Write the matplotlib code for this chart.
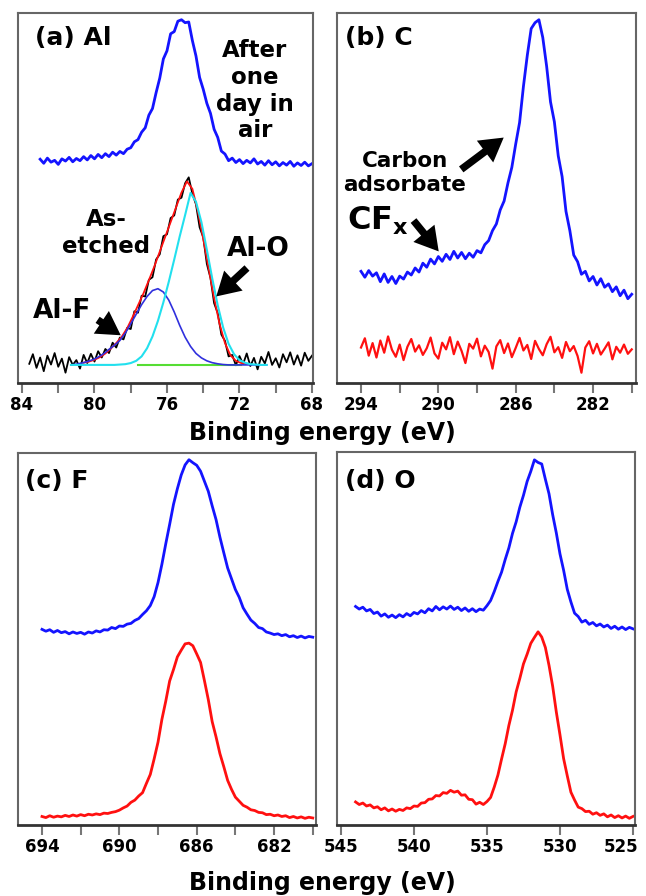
import numpy as np
import matplotlib
matplotlib.use("Agg")
import matplotlib.pyplot as plt
import matplotlib.transforms as mtransforms

plt.rcParams['font.family'] = ['DejaVu Sans']
plt.rcParams['font.weight'] = 'bold'

# ---- (a) Al 2p ----
al_air = [60.5, 59.4, 60.8, 59.7, 60.2, 59.1, 60.6, 60.0, 61.0, 59.8,
          60.7, 60.1, 61.2, 60.3, 61.5, 60.6, 61.8, 60.9, 62.0, 61.2,
          62.4, 61.6, 62.6, 62.0, 63.2, 63.6, 65.2, 65.8, 67.8, 69.0,
          72.4, 74.2, 78.5, 82.4, 87.6, 89.8, 94.4, 95.0, 97.8, 98.2,
          97.4, 97.6, 92.6, 88.4, 82.6, 79.4, 75.6, 72.9, 68.6, 66.4,
          62.7, 61.9, 60.1, 60.8, 59.6, 60.4, 59.3, 60.2, 59.5, 60.6,
          59.2, 59.9, 58.9, 60.1, 59.0, 59.8, 58.7, 59.6, 58.9, 59.9,
          58.6, 59.5, 58.8, 59.7, 58.7, 59.3]
al_air_e = np.linspace(83.0, 68.0, len(al_air))

al_etched = [5.2, 7.8, 4.1, 6.9, 3.2, 7.4, 5.0, 8.1, 4.4, 6.6,
             2.8, 7.0, 4.9, 6.2, 3.9, 7.6, 5.4, 7.9, 5.8, 8.6,
             6.9, 9.2, 8.1, 10.9, 9.6, 12.3, 11.8, 14.9, 14.6, 19.4,
             19.0, 23.6, 23.4, 27.9, 28.6, 33.4, 34.8, 39.7, 40.2, 44.6,
             45.3, 49.6, 50.1, 54.0, 55.6, 51.2, 48.3, 42.1, 39.4, 32.2,
             28.4, 21.6, 18.9, 13.1, 11.4, 7.2, 7.6, 4.8, 7.3, 5.1,
             8.0, 4.6, 6.8, 3.7, 7.1, 5.3, 8.4, 4.9, 6.7, 4.2,
             7.8, 5.6, 8.3, 5.0, 7.5, 4.7, 8.2, 6.0, 7.4]
al_etched_e = np.linspace(83.6, 68.0, len(al_etched))

al_fit = [5.5, 5.8, 6.3, 7.0, 8.0, 9.3, 10.8, 12.5, 14.8, 17.8,
          21.0, 24.2, 27.8, 31.5, 35.5, 39.5, 43.5, 47.5, 51.5, 54.5,
          52.5, 46.5, 39.0, 31.0, 23.0, 16.0, 10.8, 7.5, 6.0, 5.4, 5.2]
al_fit_e = np.linspace(80.6, 71.6, len(al_fit))

al_f = [4.9, 5.1, 5.4, 5.8, 6.3, 7.0, 7.9, 9.1, 10.2, 11.5,
        13.5, 16.0, 18.6, 21.2, 23.4, 25.0, 25.5, 24.6, 22.4, 19.2,
        15.6, 12.4, 9.9, 8.0, 6.8, 6.0, 5.5, 5.2, 5.0, 4.9,
        4.9, 4.9, 4.9, 4.9, 4.9, 4.9, 4.9]
al_o = [4.9, 4.9, 4.9, 4.9, 4.9, 4.9, 4.9, 4.9, 4.9, 5.0,
        5.1, 5.4, 6.0, 7.2, 9.4, 12.6, 16.8, 21.8, 27.4, 33.4,
        39.6, 45.4, 51.4, 49.0, 43.5, 36.0, 28.2, 21.0, 15.0, 10.6,
        7.8, 6.2, 5.5, 5.1, 5.0, 4.9, 4.9]
al_comp_e = np.linspace(81.3, 70.5, len(al_f))
al_bg_e = [77.6, 71.9]
al_bg = [5.0, 5.0]

# ---- (b) C 1s ----
c_air = [30.2, 28.6, 30.4, 28.9, 29.8, 27.4, 29.5, 27.2, 28.8, 26.9,
         28.9, 28.1, 30.0, 29.2, 31.1, 30.0, 32.4, 31.3, 33.5, 32.2,
         34.2, 32.9, 34.8, 33.4, 35.6, 33.8, 35.3, 33.6, 35.1, 34.0,
         35.8, 35.2, 37.4, 38.5, 41.2, 43.0, 46.8, 49.2, 54.1, 58.3,
         64.6, 70.4, 80.2, 88.6, 95.8, 97.4, 98.2, 93.4, 85.6, 76.0,
         70.6, 61.4, 55.8, 46.4, 41.2, 34.6, 32.8, 29.4, 30.2, 27.6,
         28.8, 26.5, 28.2, 25.9, 26.8, 24.7, 26.0, 23.6, 25.1, 22.8, 24.0]
c_air_e = np.linspace(294.0, 280.0, len(c_air))

c_etched = [9.6, 12.1, 7.4, 10.8, 6.9, 11.5, 8.2, 12.6, 9.0, 7.1,
            10.4, 6.2, 9.8, 11.9, 8.5, 10.2, 7.6, 9.4, 12.3, 8.0,
            6.6, 10.9, 9.1, 12.4, 7.8, 11.2, 8.7, 5.4, 10.6, 9.3,
            12.0, 7.2, 10.1, 8.4, 3.9, 9.9, 11.6, 8.1, 10.7, 7.0,
            9.5, 12.2, 8.8, 10.3, 6.5, 11.4, 9.2, 7.5, 10.5, 12.5,
            8.3, 9.7, 6.8, 11.1, 8.6, 10.0, 7.3, 2.8, 9.6, 11.3,
            8.0, 10.6, 7.7, 9.3, 11.0, 6.4, 9.8, 8.2, 10.4, 7.9, 9.1]
c_etched_e = np.linspace(294.0, 280.0, len(c_etched))

# ---- (c) F 1s ----
f_air = [52.6, 52.1, 52.5, 51.8, 52.3, 51.7, 52.0, 51.4, 51.9, 51.5,
         51.8, 51.3, 51.9, 51.6, 52.2, 51.9, 52.5, 52.4, 53.1, 52.8,
         53.5, 53.4, 54.0, 54.2, 55.0, 55.5, 56.6, 57.6, 59.0, 61.4,
         65.2, 70.1, 75.6, 80.8, 86.2, 90.4, 94.1, 96.8, 98.2, 97.4,
         96.7, 95.1, 92.4, 89.7, 85.8, 82.1, 77.4, 73.2, 69.1, 66.2,
         63.3, 61.2, 58.4, 56.7, 55.1, 54.2, 53.1, 52.8, 51.9, 51.6,
         51.2, 51.4, 50.9, 51.2, 50.6, 50.9, 50.4, 50.8, 50.3, 50.7, 50.5]
f_air_e = np.linspace(694.0, 680.0, len(f_air))

f_etched = [2.3, 2.0, 2.5, 2.1, 2.4, 2.2, 2.6, 2.3, 2.7, 2.4,
            2.8, 2.5, 2.9, 2.7, 3.0, 2.8, 3.2, 3.1, 3.4, 3.6,
            4.0, 4.6, 5.1, 6.1, 6.7, 7.8, 8.7, 11.2, 13.6, 17.8,
            22.3, 28.4, 33.3, 38.7, 41.8, 45.2, 47.0, 48.7, 48.9, 48.2,
            46.0, 43.7, 38.8, 33.7, 27.8, 23.7, 19.2, 15.7, 12.0, 9.6,
            7.5, 6.4, 5.3, 4.8, 4.1, 3.9, 3.4, 3.3, 2.8, 2.9,
            2.5, 2.7, 2.3, 2.5, 2.0, 2.3, 1.9, 2.2, 1.8, 2.1, 1.9]
f_etched_e = np.linspace(694.0, 680.0, len(f_etched))

# ---- (d) O 1s ----
o_air = [58.6, 57.9, 58.4, 57.4, 57.8, 56.7, 57.1, 56.0, 56.6, 55.7,
         56.3, 55.6, 56.4, 55.8, 56.7, 56.1, 57.0, 56.6, 57.5, 56.9,
         58.0, 57.4, 58.6, 57.7, 58.5, 57.9, 58.7, 57.8, 58.4, 57.5,
         58.2, 57.3, 58.0, 57.2, 57.9, 57.6, 58.8, 60.2, 62.6, 65.3,
         67.8, 71.2, 74.3, 78.2, 81.3, 85.2, 88.4, 92.1, 94.8, 97.9,
         97.2, 96.8, 92.7, 88.8, 83.2, 78.3, 72.7, 68.3, 63.2, 59.8,
         56.8, 55.9, 54.4, 54.9, 53.8, 54.3, 53.4, 53.9, 53.1, 53.6,
         52.7, 53.3, 52.5, 53.1, 52.4, 53.0, 52.6]
o_air_e = np.linspace(544.0, 525.0, len(o_air))

o_etched = [6.2, 5.5, 5.9, 5.1, 5.4, 4.6, 4.9, 4.1, 4.6, 3.8,
            4.3, 3.7, 4.2, 3.9, 4.6, 4.4, 5.1, 5.0, 5.9, 6.0,
            6.9, 7.0, 7.9, 7.8, 8.7, 8.5, 9.3, 8.8, 9.1, 8.0,
            8.1, 6.9, 6.8, 5.6, 6.1, 5.5, 6.3, 7.4, 10.2, 13.4,
            17.7, 21.8, 26.7, 30.8, 35.7, 39.3, 43.2, 45.8, 48.7, 50.3,
            51.8, 50.4, 47.6, 42.8, 37.2, 30.3, 24.2, 17.8, 13.2, 8.8,
            6.7, 4.8, 4.4, 3.6, 3.7, 2.9, 3.3, 2.6, 3.0, 2.2,
            2.7, 2.0, 2.5, 1.9, 2.4, 1.8, 2.3]
o_etched_e = np.linspace(544.0, 525.0, len(o_etched))

BLUE = '#1414ff'
RED = '#ff1010'


def style_axis(ax, xlim, major, minor):
    ax.set_xlim(*xlim)
    ax.set_ylim(0, 100)
    ax.set_yticks([])
    ax.set_xticks(major)
    ax.set_xticks(minor, minor=True)
    ax.set_xticklabels([str(m) for m in major], fontsize=12, fontweight='bold')
    ax.tick_params(axis='x', which='both', direction='out', length=7,
                   width=1.5, color='#777777', pad=2)
    for side in ['top', 'right', 'left']:
        ax.spines[side].set_color('#666666')
        ax.spines[side].set_linewidth(1.5)
    ax.spines['bottom'].set_color('#333333')
    ax.spines['bottom'].set_linewidth(2)


def arrow(ax, tail, head):
    ax.annotate('', xy=head, xytext=tail, xycoords='axes fraction',
                textcoords='axes fraction',
                arrowprops=dict(arrowstyle='simple,head_width=1.4,head_length=1.2,tail_width=0.38',
                                mutation_scale=14, color='black', lw=0))


fig = plt.figure(figsize=(6.46, 8.96), dpi=100)
ax_a = fig.add_axes([0.0279, 0.5725, 0.4567, 0.4129])
ax_b = fig.add_axes([0.5217, 0.5725, 0.4628, 0.4129])
ax_c = fig.add_axes([0.0279, 0.0792, 0.4613, 0.4152])
ax_d = fig.add_axes([0.5217, 0.0792, 0.4613, 0.4163])

# (a)
ax_a.plot(al_air_e, al_air, color=BLUE, lw=2)
ax_a.plot(al_etched_e, al_etched, color='black', lw=1.3)
ax_a.plot(al_fit_e, al_fit, color=RED, lw=1.3)
ax_a.plot(al_bg_e, al_bg, color='#55dd33', lw=1.5)
ax_a.plot(al_comp_e, al_f, color='#3030dd', lw=1.2)
ax_a.plot(al_comp_e, al_o, color='#22e0ee', lw=1.5)
style_axis(ax_a, (84.22, 67.94), [84, 80, 76, 72, 68], [82, 78, 74, 70])
ax_a.text(0.058, 0.932, '(a) Al', transform=ax_a.transAxes, fontsize=18,
          fontweight='bold', ha='left', va='center')
ax_a.text(0.803, 0.79, 'After\none\nday in\nair', transform=ax_a.transAxes,
          fontsize=16.5, fontweight='bold', ha='center', va='center',
          multialignment='center')
ax_a.text(0.298, 0.405, 'As-\netched', transform=ax_a.transAxes, fontsize=16.5,
          fontweight='bold', ha='center', va='center', multialignment='center')
ax_a.text(0.814, 0.362, 'Al-O', transform=ax_a.transAxes, fontsize=19,
          fontweight='bold', ha='center', va='center')
ax_a.text(0.149, 0.195, 'Al-F', transform=ax_a.transAxes, fontsize=19,
          fontweight='bold', ha='center', va='center')
arrow(ax_a, (0.262, 0.175), (0.356, 0.125))
arrow(ax_a, (0.783, 0.316), (0.665, 0.229))

# (b)
ax_b.plot(c_air_e, c_air, color=BLUE, lw=2)
ax_b.plot(c_etched_e, c_etched, color=RED, lw=1.6)
style_axis(ax_b, (295.24, 279.78), [294, 290, 286, 282], [292, 288, 284, 280])
ax_b.text(0.027, 0.932, '(b) C', transform=ax_b.transAxes, fontsize=18,
          fontweight='bold', ha='left', va='center')
ax_b.text(0.227, 0.568, 'Carbon\nadsorbate', transform=ax_b.transAxes,
          fontsize=15.5, fontweight='bold', ha='center', va='center',
          multialignment='center')
ax_b.text(0.033, 0.4135, r'$\mathbf{CF_x}$', transform=ax_b.transAxes,
          fontsize=23, ha='left', va='baseline')
arrow(ax_b, (0.408, 0.573), (0.565, 0.668))
arrow(ax_b, (0.250, 0.445), (0.346, 0.350))

# (c)
ax_c.plot(f_air_e, f_air, color=BLUE, lw=2)
ax_c.plot(f_etched_e, f_etched, color=RED, lw=2)
style_axis(ax_c, (695.24, 679.83), [694, 690, 686, 682], [692, 688, 684, 680])
ax_c.text(0.023, 0.925, '(c) F', transform=ax_c.transAxes, fontsize=18,
          fontweight='bold', ha='left', va='center')

# (d)
ax_d.plot(o_air_e, o_air, color=BLUE, lw=2)
ax_d.plot(o_etched_e, o_etched, color=RED, lw=2)
style_axis(ax_d, (545.27, 524.86), [545, 540, 535, 530, 525], [])
ax_d.text(0.027, 0.922, '(d) O', transform=ax_d.transAxes, fontsize=18,
          fontweight='bold', ha='left', va='center')
# last label sits against the figure edge
last = ax_d.get_xticklabels()[-1]
last.set_horizontalalignment('right')
last.set_transform(last.get_transform() +
                   mtransforms.ScaledTranslation(5 / 100, 0, fig.dpi_scale_trans))

fig.text(0.4985, 1 - 433 / 896, 'Binding energy (eV)', fontsize=17,
         fontweight='bold', ha='center', va='center')
fig.text(0.4985, 1 - 883 / 896, 'Binding energy (eV)', fontsize=17,
         fontweight='bold', ha='center', va='center')

fig.savefig('out.png', dpi=100)
